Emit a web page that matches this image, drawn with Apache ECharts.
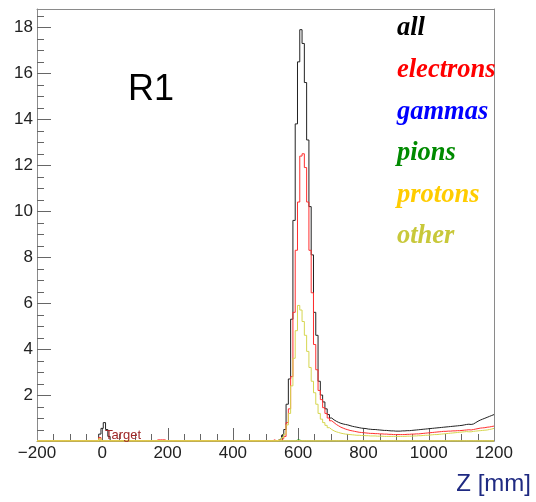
<!DOCTYPE html>
<html>
<head>
<meta charset="utf-8">
<script src="https://cdn.jsdelivr.net/npm/echarts@6/dist/echarts.min.js"></script>
<style>
  html, body { margin: 0; padding: 0; background: #fff; }
  #chart { width: 536px; height: 502px; }
</style>
</head>
<body>
<div id="chart"></div>
<script>
// Histogram binning along Z (mm): 200 bins of 7 mm from -200 to 1200
const Z_MIN = -200;
const Z_MAX = 1200;
const BIN_WIDTH = 7;
const Y_MAX = 18.8;

const xTicks = [-200, 0, 200, 400, 600, 800, 1000, 1200];
const yTicks = [2, 4, 6, 8, 10, 12, 14, 16, 18];
const X_MINOR_STEP = 50;
const Y_MINOR_STEP = 0.5;

// Entries per bin, 20 bins per row
const allParticles = [
  0,0,0,0,0,0,0,0,0,0,0,0,0,0,0,0,0,0,0,0,
  0,0,0,0,0,0,0,0.3,0.55,0.8,0.5,0.2,0,0,0,0,0,0,0,0,
  0,0,0,0,0,0,0,0,0,0,0,0,0,0,0,0,0,0,0,0,
  0,0,0,0,0,0,0,0,0,0,0,0,0,0,0,0,0,0,0,0,
  0,0,0,0,0,0,0,0,0,0,0,0,0,0,0,0,0,0,0,0,
  0,0,0,0,0,0.05,0.1,0.25,0.5,1.6,2.7,5.3,9.6,13.8,16.5,17.9,17.3,15.6,13.1,10.2,
  8.1,5.6,4.6,2.6,2.0,1.7,1.4,1.15,1.0,0.92,0.86,0.81,0.77,0.74,0.72,0.7,0.67,0.64,0.62,0.6,
  0.58,0.56,0.55,0.54,0.52,0.51,0.5,0.5,0.49,0.48,0.47,0.46,0.46,0.45,0.44,0.44,0.43,0.43,0.43,0.44,
  0.44,0.45,0.45,0.46,0.47,0.48,0.49,0.5,0.51,0.52,0.53,0.54,0.55,0.56,0.57,0.58,0.59,0.6,0.61,0.62,
  0.63,0.64,0.65,0.66,0.67,0.68,0.7,0.72,0.73,0.72,0.74,0.8,0.86,0.91,0.95,0.99,1.03,1.07,1.11,1.15
];

const electrons = [
  0,0,0,0,0,0,0,0,0,0,0,0,0,0,0,0,0,0,0,0,
  0,0,0,0,0,0,0,0.15,0,0,0,0,0,0,0,0,0,0,0,0,
  0,0,0,0,0,0,0,0,0,0,0,0,0.05,0.05,0.05,0.05,0,0,0,0,
  0,0,0,0,0,0,0,0,0,0,0,0,0,0,0,0,0,0,0,0,
  0,0,0,0,0,0,0,0,0,0,0,0,0,0,0,0,0,0,0,0,
  0,0,0,0.05,0,0.03,0.05,0.1,0.2,0.8,1.4,2.8,5.6,8.3,10.4,12.4,12.5,11.9,10.4,8.3,
  6.45,4.2,3.1,2.2,1.8,1.45,1.2,1.0,0.88,0.8,0.72,0.66,0.6,0.56,0.52,0.49,0.46,0.44,0.42,0.4,
  0.38,0.37,0.36,0.35,0.34,0.33,0.33,0.32,0.32,0.31,0.31,0.3,0.3,0.29,0.29,0.28,0.28,0.28,0.28,0.28,
  0.28,0.29,0.29,0.3,0.3,0.31,0.31,0.32,0.33,0.34,0.35,0.36,0.37,0.38,0.39,0.4,0.41,0.42,0.42,0.43,
  0.43,0.44,0.44,0.45,0.45,0.46,0.47,0.48,0.49,0.48,0.5,0.52,0.54,0.56,0.57,0.58,0.6,0.61,0.63,0.65
];

const gammas = [
  0,0,0,0,0,0,0,0,0,0,0,0,0,0,0,0,0,0,0,0,
  0,0,0,0,0,0,0,0,0,0,0,0,0,0,0,0,0,0,0,0,
  0,0,0,0,0,0,0,0,0,0,0,0,0,0,0,0,0,0,0,0,
  0,0,0,0,0,0,0,0,0,0,0,0,0,0,0,0,0,0,0,0,
  0,0,0,0,0,0,0,0,0,0,0,0,0,0,0,0,0,0,0,0,
  0,0,0,0,0,0,0,0,0,0,0,0,0,0,0,0,0,0,0,0,
  0,0,0,0,0,0,0,0,0,0,0,0,0,0,0,0,0,0,0,0,
  0,0,0,0,0,0,0,0,0,0,0,0,0,0,0,0,0,0,0,0,
  0,0,0,0,0,0,0,0,0,0,0,0,0,0,0,0,0,0,0,0,
  0,0,0,0,0,0,0,0,0,0,0,0,0,0,0,0,0,0,0,0
];

const pions = [
  0,0,0,0,0,0,0,0,0,0,0,0,0,0,0,0,0,0,0,0,
  0,0,0,0,0,0,0,0,0,0,0,0,0,0,0,0,0,0,0,0,
  0,0,0,0,0,0,0,0,0,0,0,0,0,0,0,0,0,0,0,0,
  0,0,0,0,0,0,0,0,0,0,0,0,0,0,0,0,0,0,0,0,
  0,0,0,0,0,0,0,0,0,0,0,0,0,0,0,0,0,0,0,0,
  0,0,0,0,0,0,0,0,0,0,0,0,0,0.04,0.04,0,0,0,0,0,
  0,0,0,0,0,0,0,0,0,0,0,0,0,0,0,0,0,0,0,0,
  0,0,0,0,0,0,0,0,0,0,0,0,0,0,0,0,0,0,0,0,
  0,0,0,0,0,0,0,0,0,0,0,0,0,0,0,0,0,0,0,0,
  0,0,0,0,0,0,0,0,0,0,0,0,0,0,0,0,0,0,0,0
];

const protons = [
  0,0,0,0,0,0,0,0,0,0,0,0,0,0,0,0,0,0,0,0,
  0,0,0,0,0,0,0,0,0,0,0,0,0,0,0,0,0,0,0,0,
  0,0,0,0,0,0,0,0,0,0,0,0,0,0,0,0,0,0,0,0,
  0,0,0,0,0,0,0,0,0,0,0,0,0,0,0,0,0,0,0,0,
  0,0,0,0,0,0,0,0,0,0,0,0,0,0,0,0,0,0,0,0,
  0,0,0,0,0,0,0,0,0,0,0,0,0,0,0,0,0,0,0,0,
  0,0,0,0,0,0,0,0,0,0,0,0,0,0,0,0,0,0,0,0,
  0,0,0,0,0,0,0,0,0,0,0,0,0,0,0,0,0,0,0,0,
  0,0,0,0,0,0,0,0,0,0,0,0,0,0,0,0,0,0,0,0,
  0,0,0,0,0,0,0,0,0,0,0,0,0,0,0,0,0,0,0,0
];

const other = [
  0,0,0,0,0,0,0,0,0,0,0,0,0,0,0,0,0,0,0,0,
  0,0,0,0,0,0,0,0.1,0,0,0,0,0,0,0,0,0,0,0,0,
  0,0,0,0,0,0,0,0,0,0,0,0,0,0,0,0,0,0,0,0,
  0,0,0,0,0,0,0,0,0,0,0,0,0,0,0,0,0,0,0,0,
  0,0,0,0,0,0,0,0,0,0,0,0,0,0,0,0,0,0,0,0,
  0,0,0,0,0,0.05,0.05,0.15,0.3,0.7,1.2,2.4,3.6,4.8,5.9,5.7,5.2,4.6,3.9,3.2,
  2.6,2.1,1.6,1.2,0.95,0.8,0.68,0.58,0.5,0.44,0.4,0.37,0.34,0.32,0.3,0.29,0.28,0.27,0.26,0.25,
  0.25,0.24,0.24,0.23,0.23,0.22,0.22,0.22,0.21,0.21,0.21,0.2,0.2,0.2,0.2,0.2,0.2,0.2,0.2,0.2,
  0.2,0.21,0.21,0.21,0.22,0.22,0.23,0.23,0.24,0.25,0.25,0.26,0.27,0.28,0.28,0.29,0.3,0.31,0.32,0.33,
  0.34,0.35,0.36,0.37,0.38,0.39,0.4,0.41,0.4,0.4,0.42,0.43,0.44,0.45,0.46,0.47,0.48,0.5,0.52,0.55
];

const legendLabels = ['all', 'electrons', 'gammas', 'pions', 'protons', 'other'];
const legendColors = ['#000000', '#ff0000', '#0000ff', '#008a00', '#ffcc00', '#c8c83a'];

// Histogram outline: one point at each bin's lower edge, plus the upper edge of the last bin
function histPoints(values) {
  const pts = values.map((v, i) => [Z_MIN + i * BIN_WIDTH, v]);
  pts.push([Z_MIN + values.length * BIN_WIDTH, values[values.length - 1]]);
  return pts;
}

function histSeries(name, values, color, width) {
  return {
    name: name,
    type: 'line',
    step: 'end',
    data: histPoints(values),
    symbol: 'none',
    silent: true,
    lineStyle: { color: color, width: width },
    clip: true
  };
}

// Frame tick marks pointing into the plot, placed through the axis scales
const tickColor = '#666666';
const xTickData = [];
for (let z = Z_MIN + X_MINOR_STEP; z < Z_MAX; z += X_MINOR_STEP) {
  xTickData.push([z, 0, xTicks.includes(z) ? 1 : 0]);
}
const yTickData = [];
for (let k = 1; k * Y_MINOR_STEP < Y_MAX; k++) {
  const v = k * Y_MINOR_STEP;
  yTickData.push([Z_MIN, v, yTicks.includes(v) ? 1 : 0]);
}

function tickSeries(data, vertical) {
  return {
    type: 'custom',
    silent: true,
    clip: false,
    z: 3,
    data: data,
    renderItem: function (params, api) {
      const p = api.coord([api.value(0), vertical ? 0 : api.value(1)]);
      const major = api.value(2) === 1;
      if (vertical) {
        const x = Math.round(p[0]) + 0.5;
        const len = major ? 13 : 7;
        return { type: 'line', shape: { x1: x, y1: p[1], x2: x, y2: p[1] - len },
          style: { stroke: tickColor, lineWidth: 1 } };
      }
      const y = Math.round(p[1]) + 0.5;
      const len = major ? 14 : 7;
      return { type: 'line', shape: { x1: p[0], y1: y, x2: p[0] + len, y2: y },
        style: { stroke: tickColor, lineWidth: 1 } };
    }
  };
}

const chart = echarts.init(document.getElementById('chart'), null, { renderer: 'canvas' });

const legendGraphics = legendLabels.map((label, i) => ({
  type: 'text',
  left: 397,
  top: 15 + i * 41.6,
  style: {
    text: label,
    fill: legendColors[i],
    font: 'italic bold 26.5px "Liberation Serif", "DejaVu Serif", serif'
  },
  z: 100
}));

const labelFont = '"Liberation Sans", Arial, sans-serif';
const frameColor = '#8a8a8a';

// Plain frame edge (top / right): line only
const frameAxis = {
  show: true,
  axisLine: { show: true, onZero: false, lineStyle: { color: frameColor, width: 1 } },
  axisTick: { show: false },
  minorTick: { show: false },
  axisLabel: { show: false },
  splitLine: { show: false }
};

chart.setOption({
  animation: false,
  backgroundColor: '#ffffff',
  grid: { left: 37, right: 42, top: 9, bottom: 61 },
  xAxis: [
    {
      type: 'value',
      position: 'bottom',
      min: Z_MIN, max: Z_MAX, interval: 200,
      axisLine: { show: true, onZero: false, lineStyle: { color: frameColor, width: 1 } },
      axisTick: { show: false },
      minorTick: { show: false },
      splitLine: { show: false },
      axisLabel: {
        margin: 4, color: '#222', fontSize: 17, fontFamily: labelFont,
        formatter: v => xTicks.includes(v) ? String(v).replace('-', '\u2212') : ''
      }
    },
    Object.assign({ type: 'value', position: 'top', min: Z_MIN, max: Z_MAX }, frameAxis)
  ],
  yAxis: [
    {
      type: 'value',
      position: 'left',
      min: 0, max: Y_MAX, interval: 2,
      axisLine: { show: true, onZero: false, lineStyle: { color: frameColor, width: 1 } },
      axisTick: { show: false },
      minorTick: { show: false },
      splitLine: { show: false },
      axisLabel: {
        margin: 4, color: '#222', fontSize: 17, fontFamily: labelFont,
        formatter: v => yTicks.includes(v) ? String(v) : ''
      }
    },
    Object.assign({ type: 'value', position: 'right', min: 0, max: Y_MAX }, frameAxis)
  ],
  series: [
    histSeries('all', allParticles, '#222222', 1),
    histSeries('electrons', electrons, '#ff3030', 1),
    histSeries('gammas', gammas, '#0000ff', 1),
    histSeries('pions', pions, '#00a000', 1),
    histSeries('other', other, '#d6d650', 1),
    histSeries('protons', protons, '#ffd84a', 1.5),
    tickSeries(xTickData, true),
    tickSeries(yTickData, false)
  ],
  graphic: [
    {
      type: 'text', left: 128, top: 72, z: 100,
      style: { text: 'R1', fill: '#000', font: '36px "Liberation Sans", Arial, sans-serif' }
    },
    {
      type: 'text', left: 105, top: 429, z: 100,
      style: { text: 'Target', fill: '#a02828', font: '13px "Liberation Sans", Arial, sans-serif' }
    },
    {
      type: 'text', right: 5, top: 472, z: 100,
      style: { text: 'Z [mm]', fill: '#1f2a82', font: '24px "Liberation Sans", Arial, sans-serif' }
    }
  ].concat(legendGraphics)
});
</script>
</body>
</html>
